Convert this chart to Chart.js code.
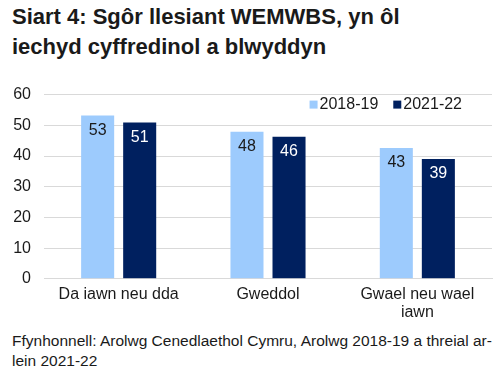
<!DOCTYPE html>
<html>
<head>
<meta charset="utf-8">
<script src="https://cdn.jsdelivr.net/npm/chart.js@4.4.0/dist/chart.umd.min.js"></script>
<style>
    body { margin: 0; background: #fff; font-family: "Liberation Sans", Arial, sans-serif; color: #1a1a1a; }
    #wrap { position: relative; width: 502px; height: 376px; overflow: hidden; }
    #title { position: absolute; left: 12px; top: 2px; font-weight: bold; font-size: 22px; line-height: 30px; }
    #chart-box { position: absolute; left: 0; top: 72px; width: 502px; height: 256px; }
    #source { position: absolute; left: 12px; top: 331px; width: 488px; font-size: 15.5px; line-height: 20px; }
</style>
</head>
<body>
<div id="wrap">
    <div id="title">Siart 4: Sgôr llesiant WEMWBS, yn ôl<br>iechyd cyffredinol a blwyddyn</div>
    <div id="chart-box"><canvas id="wemwbs-chart"></canvas></div>
    <div id="source">Ffynhonnell: Arolwg Cenedlaethol Cymru, Arolwg 2018-19 a threial ar-lein 2021-22</div>
</div>
<script>
// --- Data ---
const categories = ['Da iawn neu dda', 'Gweddol', ['Gwael neu wael', 'iawn']];
const seriesNames = ['2018-19', '2021-22'];
const values2018 = [53.2, 47.9, 42.6];
const values2021 = [50.9, 46.3, 39.0];
const yTicks = [0, 10, 20, 30, 40, 50, 60];

const lightBlue = '#9dcbfd';
const navy = '#00205f';
const FONT = '"Liberation Sans", Arial, sans-serif';

// Draws the rounded value just inside the top of each bar
const barValueLabels = {
    id: 'barValueLabels',
    afterDatasetsDraw(chart) {
        const ctx = chart.ctx;
        ctx.save();
        ctx.font = '16px ' + FONT;
        ctx.textAlign = 'center';
        ctx.textBaseline = 'middle';
        chart.data.datasets.forEach((ds, i) => {
            const meta = chart.getDatasetMeta(i);
            meta.data.forEach((bar, j) => {
                ctx.fillStyle = i === 0 ? '#1a1a1a' : '#ffffff';
                ctx.fillText(Math.round(ds.data[j]).toString(), bar.x, bar.y + 15);
            });
        });
        ctx.restore();
    }
};

// Small legend sitting inside the top-right of the plot area
const insideLegend = {
    id: 'insideLegend',
    afterDraw(chart) {
        const ctx = chart.ctx;
        const area = chart.chartArea;
        ctx.save();
        ctx.font = '16px ' + FONT;
        ctx.textBaseline = 'middle';
        const box = 8, gap = 2, itemGap = 15;
        const items = chart.data.datasets.map(ds => ({ text: ds.label, color: ds.backgroundColor }));
        let total = 0;
        items.forEach((it, i) => {
            it.w = box + gap + ctx.measureText(it.text).width;
            total += it.w + (i > 0 ? itemGap : 0);
        });
        let x = area.right - 30 - total;
        const y = area.top + 10;
        items.forEach(it => {
            ctx.fillStyle = it.color;
            ctx.fillRect(x, y - box / 2, box, box);
            ctx.fillStyle = '#1a1a1a';
            ctx.fillText(it.text, x + box + gap, y);
            x += it.w + itemGap;
        });
        ctx.restore();
    }
};

const ctx = document.getElementById('wemwbs-chart').getContext('2d');
new Chart(ctx, {
    type: 'bar',
    data: {
        labels: categories,
        datasets: [
            { label: seriesNames[0], data: values2018, backgroundColor: lightBlue },
            { label: seriesNames[1], data: values2021, backgroundColor: navy }
        ]
    },
    options: {
        responsive: true,
        maintainAspectRatio: false,
        animation: false,
        categoryPercentage: 0.563,
        barPercentage: 0.786,
        layout: { padding: { left: 12, right: 10, top: 0, bottom: 0 } },
        plugins: {
            legend: { display: false },
            tooltip: { enabled: false }
        },
        scales: {
            x: {
                grid: { display: false, drawTicks: false },
                border: { color: '#d9d9d9' },
                afterFit: (scale) => { scale.paddingLeft = 0; scale.paddingRight = 0; },
                ticks: {
                    color: '#1a1a1a',
                    padding: 7,
                    maxRotation: 0,
                    autoSkip: false,
                    font: { size: 16, family: FONT, lineHeight: 1.1 }
                }
            },
            y: {
                min: 0,
                max: 60,
                afterBuildTicks: (axis) => { axis.ticks = yTicks.map(v => ({ value: v })); },
                afterFit: (scale) => { scale.width = 32; },
                grid: { color: '#d9d9d9', drawTicks: false },
                border: { display: false },
                ticks: {
                    color: '#1a1a1a',
                    padding: 13,
                    font: { size: 16, family: FONT }
                }
            }
        }
    },
    plugins: [barValueLabels, insideLegend]
});
</script>
</body>
</html>
